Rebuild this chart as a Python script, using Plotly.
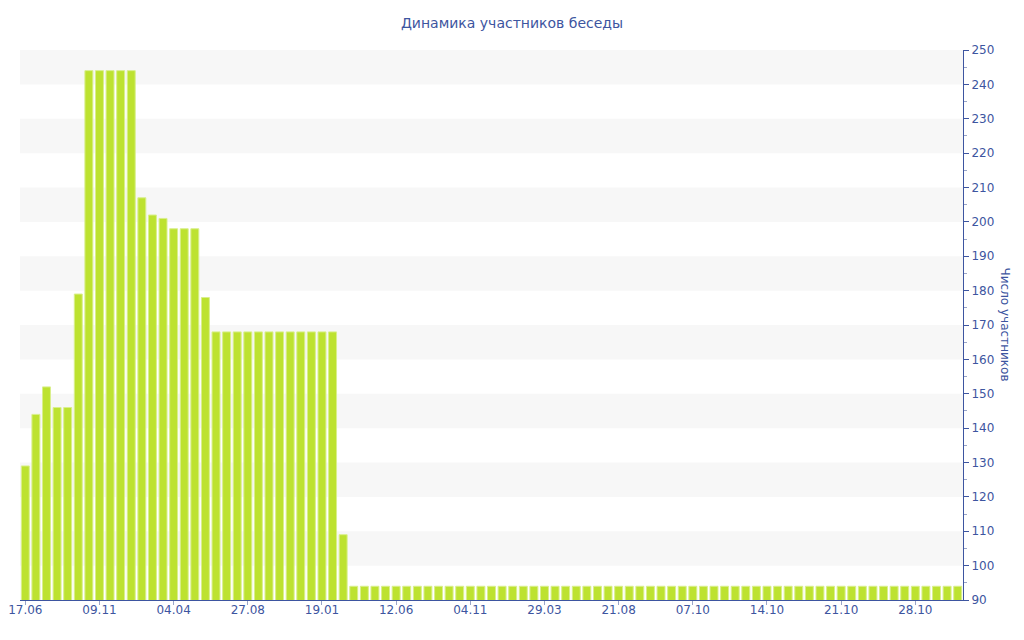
import plotly.graph_objects as go

# участники беседы по периодам (89 столбцов)
members = (
    [129, 144, 152, 146, 146, 179,
     244, 244, 244, 244, 244,
     207, 202, 201, 198, 198, 198, 178]
    + [168] * 12
    + [109]
    + [94] * 58
)
positions = list(range(len(members)))

tick_positions = [0, 7, 14, 21, 28, 35, 42, 49, 56, 63, 70, 77, 84]
tick_labels = ['17.06', '09.11', '04.04', '27.08', '19.01', '12.06', '04.11',
               '29.03', '21.08', '07.10', '14.10', '21.10', '28.10']

blue = '#3d55a0'
font = 'DejaVu Sans, Verdana, sans-serif'

fig = go.Figure()

fig.add_trace(
    go.Bar(
        x = positions,
        y = members,
        marker = dict(color = '#bde230', line = dict(color = '#d9ef8c', width = 1)),
        name = 'Число участников',
    )
)

# серые полосы через одну
for lo in range(100, 250, 20):
    fig.add_shape(
        type = 'rect', xref = 'paper', yref = 'y',
        x0 = 0, x1 = 1, y0 = lo, y1 = lo + 10,
        fillcolor = '#f7f7f7', line = dict(width = 0), layer = 'below',
    )

fig.add_annotation(
    text = 'Число участников',
    xref = 'paper', yref = 'paper',
    x = 1.045, y = 0.5,
    xanchor = 'center', yanchor = 'middle',
    textangle = 90, showarrow = False,
    font = dict(family = font, size = 12, color = blue),
)

fig.update_xaxes(
    tickmode = 'array',
    tickvals = tick_positions,
    ticktext = tick_labels,
    range = [-0.5, len(members) - 0.5],
    showline = True, linecolor = blue, linewidth = 1,
    ticks = 'outside', ticklen = 4, tickcolor = '#9aa5c8',
    ticklabelstandoff = -5,
    showgrid = False, zeroline = False, automargin = False,
    tickfont = dict(family = font, size = 12, color = blue),
)

fig.update_yaxes(
    side = 'right',
    range = [90, 250],
    dtick = 10,
    showline = True, linecolor = blue, linewidth = 1,
    ticks = 'outside', ticklen = 5, tickcolor = blue,
    minor = dict(dtick = 5, ticks = 'outside', ticklen = 3, tickcolor = '#9aa5c8'),
    showgrid = False, zeroline = False, automargin = False,
    tickfont = dict(family = font, size = 12, color = blue),
)

# страница добавляет отступ 8px, поэтому размеры уменьшены
fig.update_layout(
    width = 1008, height = 624,
    margin = dict(l = 12, r = 53, t = 42, b = 32),
    plot_bgcolor = 'white', paper_bgcolor = 'white',
    bargap = 0.25,
    showlegend = False,
    title = dict(
        text = 'Динамика участников беседы',
        x = 0.5, xanchor = 'center', y = 0.976, yanchor = 'middle',
        font = dict(family = font, size = 14, color = blue),
    ),
)

fig.write_html('out.html')
